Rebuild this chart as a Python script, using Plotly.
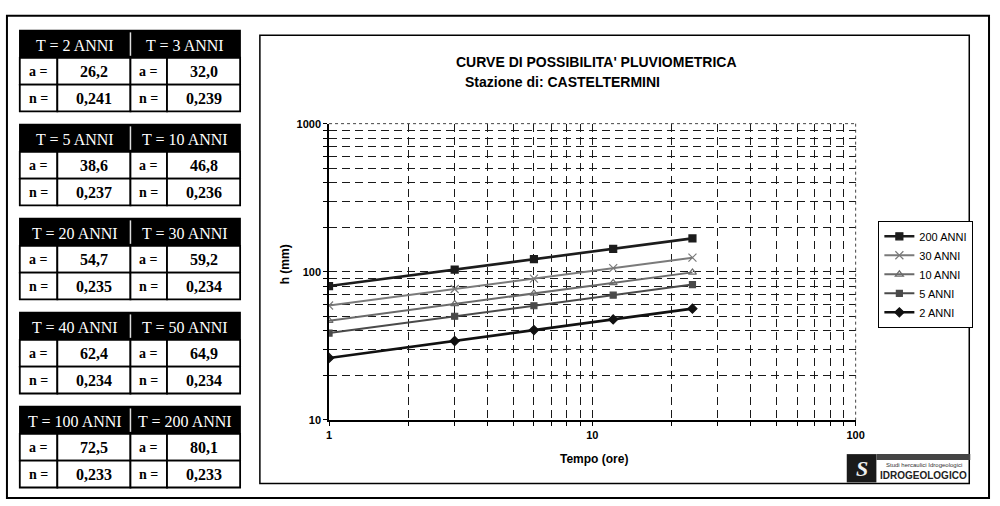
import plotly.graph_objects as go

# ---------------- data ----------------
DURATIONS = [1, 3, 6, 12, 24]          # Tempo (ore)
SERIES_NAMES = ["200 ANNI", "30 ANNI", "10 ANNI", "5 ANNI", "2 ANNI"]
H_200 = [80.1, 103.5, 121.6, 142.9, 168.0]
H_30 = [59.2, 76.5, 90.0, 105.9, 124.5]
H_10 = [46.8, 60.7, 71.4, 84.1, 99.1]
H_5 = [38.6, 50.1, 59.0, 69.6, 82.0]
H_2 = [26.2, 34.1, 40.4, 47.7, 56.4]

RETURN_PERIODS = [2, 3, 5, 10, 20, 30, 40, 50, 100, 200]
A_VALUES = [26.2, 32.0, 38.6, 46.8, 54.7, 59.2, 62.4, 64.9, 72.5, 80.1]
N_VALUES = [0.241, 0.239, 0.237, 0.236, 0.235, 0.234, 0.234, 0.234, 0.233, 0.233]

X_MAJOR = [1, 10, 100]
Y_MAJOR = [10, 100, 1000]

TITLE_1 = "CURVE DI POSSIBILITA' PLUVIOMETRICA"
TITLE_2 = "Stazione di: CASTELTERMINI"
X_TITLE = "Tempo (ore)"
Y_TITLE = "h (mm)"

# ---------------- styles ----------------
W, H = 1000, 506
SANS = "Liberation Sans Narrow, Liberation Sans, Arial, sans-serif"
SERIF = "Liberation Serif, Times New Roman, serif"

STYLES = {
    "200 ANNI": dict(color="#1c1c1c", width=2.6, symbol="square-x", size=7),
    "30 ANNI": dict(color="#7a7a7a", width=2.0, symbol="x-thin-open", size=8),
    "10 ANNI": dict(color="#6a6a6a", width=2.0, symbol="triangle-up-open", size=7),
    "5 ANNI": dict(color="#4a4a4a", width=2.0, symbol="square", size=6),
    "2 ANNI": dict(color="#111111", width=2.6, symbol="diamond", size=7),
}


def px(x):
    return x / W


def py(y):
    return 1 - y / H


def fmt(v, d):
    return f"{v:.{d}f}".replace(".", ",")


def note(text, x, y, size, family=SANS, color="#000", **kw):
    return dict(text=text, x=px(x), y=py(y), xref="paper", yref="paper",
                showarrow=False, xanchor=kw.pop("xanchor", "center"),
                yanchor=kw.pop("yanchor", "middle"),
                font=dict(family=family, size=size, color=color), **kw)


fig = go.Figure()

series_values = [H_200, H_30, H_10, H_5, H_2]
for name, vals in zip(SERIES_NAMES, series_values):
    st = STYLES[name]
    fig.add_trace(go.Scatter(
        x=DURATIONS, y=vals, name=name, mode="lines+markers",
        line=dict(color=st["color"], width=st["width"]),
        marker=dict(symbol=st["symbol"], size=st["size"], color=st["color"],
                    line=dict(color=st["color"], width=1.2)),
    ))


def log_grid(majors):
    vals, text = [], []
    for i, m in enumerate(majors):
        if i < len(majors) - 1:
            for k in range(1, 10):
                vals.append(m * k)
                text.append(str(m) if k == 1 else "")
        else:
            vals.append(m)
            text.append(str(m))
    return vals, text


xv, xt = log_grid(X_MAJOR)
yv, yt = log_grid(Y_MAJOR)

axis_common = dict(
    type="log", showgrid=True, gridcolor="#1a1a1a", griddash="8px,5px", gridwidth=1.2,
    showline=True, linecolor="#000000", linewidth=1.5, ticks="outside", ticklen=4,
    tickcolor="#000000", zeroline=False,
    tickfont=dict(family=SANS, size=11, color="#000000", weight="bold"),
)
fig.update_xaxes(**axis_common, tickmode="array", tickvals=xv, ticktext=xt,
                 range=[0, 2], domain=[px(330), px(863)])
fig.update_yaxes(**axis_common, tickmode="array", tickvals=yv, ticktext=yt,
                 range=[1, 3], domain=[py(424), py(120.5)])

shapes = []
annotations = []

# outer frame and chart panel
shapes.append(dict(type="rect", xref="paper", yref="paper", x0=px(4), x1=px(998),
                   y0=py(504), y1=py(10), line=dict(color="#000", width=2)))
shapes.append(dict(type="rect", xref="paper", yref="paper", x0=px(260), x1=px(978),
                   y0=py(489), y1=py(30), line=dict(color="#000", width=1.5)))
# dotted top/right plot border
shapes.append(dict(type="line", xref="paper", yref="paper", x0=px(330), x1=px(863),
                   y0=py(120.5), y1=py(120.5), line=dict(color="#444", width=1, dash="dot")))
shapes.append(dict(type="line", xref="paper", yref="paper", x0=px(863), x1=px(863),
                   y0=py(120.5), y1=py(424), line=dict(color="#444", width=1, dash="dot")))

# titles
annotations.append(note("<b>" + TITLE_1 + "</b>", 456, 57, 14, xanchor="left"))
annotations.append(note("<b>" + TITLE_2 + "</b>", 466, 78, 14, xanchor="left"))
annotations.append(note("<b>" + X_TITLE + "</b>", 598, 464, 12))
annotations.append(note("<b>" + Y_TITLE + "</b>", 285, 265, 12, textangle=-90))

# parameter tables
COLS = [17, 55, 129, 166, 240]
TOP0, STEP, HDR_H, ROW_H = 25, 96.3, 28, 27.5
for k in range(len(RETURN_PERIODS) // 2):
    top = TOP0 + k * STEP
    shapes.append(dict(type="rect", xref="paper", yref="paper", x0=px(COLS[0]), x1=px(COLS[4]),
                       y0=py(top + HDR_H), y1=py(top), fillcolor="#000",
                       line=dict(color="#000", width=1.5)))
    shapes.append(dict(type="line", xref="paper", yref="paper", x0=px(COLS[2]), x1=px(COLS[2]),
                       y0=py(top + HDR_H - 2), y1=py(top + 2), line=dict(color="#ddd", width=1.5)))
    for j in range(2):
        idx = 2 * k + j
        cx = (COLS[2 * j] + COLS[2 * j + 2]) / 2
        annotations.append(note(f"T = {RETURN_PERIODS[idx]} ANNI", cx, top + HDR_H / 2 + 1,
                                16, family=SERIF, color="#fff"))
        for r, (lab, vals, d) in enumerate([("a =", A_VALUES, 1), ("n =", N_VALUES, 3)]):
            y0 = top + HDR_H + r * ROW_H
            y1 = y0 + ROW_H
            for c in range(2):
                xa, xb = COLS[2 * j + c], COLS[2 * j + c + 1]
                shapes.append(dict(type="rect", xref="paper", yref="paper", x0=px(xa),
                                   x1=px(xb), y0=py(y1), y1=py(y0), fillcolor="#fff",
                                   line=dict(color="#000", width=1.8)))
            annotations.append(note(f"<b>{lab}</b>", (COLS[2 * j] + COLS[2 * j + 1]) / 2,
                                    (y0 + y1) / 2, 14, family=SERIF))
            annotations.append(note(f"<b>{fmt(vals[idx], d)}</b>",
                                    (COLS[2 * j + 1] + COLS[2 * j + 2]) / 2,
                                    (y0 + y1) / 2, 16, family=SERIF))

# logo
shapes.append(dict(type="rect", xref="paper", yref="paper", x0=px(854), x1=px(884),
                   y0=py(488), y1=py(459), fillcolor="#1a1a1a", line=dict(width=0)))
shapes.append(dict(type="rect", xref="paper", yref="paper", x0=px(884), x1=px(979),
                   y0=py(465), y1=py(459), fillcolor="#444", line=dict(width=0)))
annotations.append(note("<i><b>S</b></i>", 869, 474, 22, family=SERIF, color="#eee"))
annotations.append(note("Studi hercaulici Idrogeologici", 932, 470, 6, color="#333"))
annotations.append(note("<b>IDROGEOLOGICO</b>", 932, 481, 10, color="#222"))

fig.update_layout(
    width=W, height=H, margin=dict(l=0, r=0, t=0, b=0),
    paper_bgcolor="#fff", plot_bgcolor="#fff",
    shapes=shapes, annotations=annotations,
    showlegend=True,
    legend=dict(x=px(886), y=py(220), xanchor="left", yanchor="top",
                bgcolor="#fff", bordercolor="#000", borderwidth=1,
                font=dict(family=SANS, size=11, color="#000"),
                itemwidth=30, tracegroupgap=0),
)

POST = (
    "document.documentElement.style.margin='0px';"
    "document.documentElement.style.overflow='hidden';"
    "document.body.style.margin='0px';"
    "document.body.style.overflow='hidden';"
    "var gd=document.getElementsByClassName('plotly-graph-div')[0];"
    "gd.style.position='fixed';gd.style.left='0px';gd.style.top='0px';"
)

fig.write_html("out.html", config={"displayModeBar": False}, post_script=POST)
